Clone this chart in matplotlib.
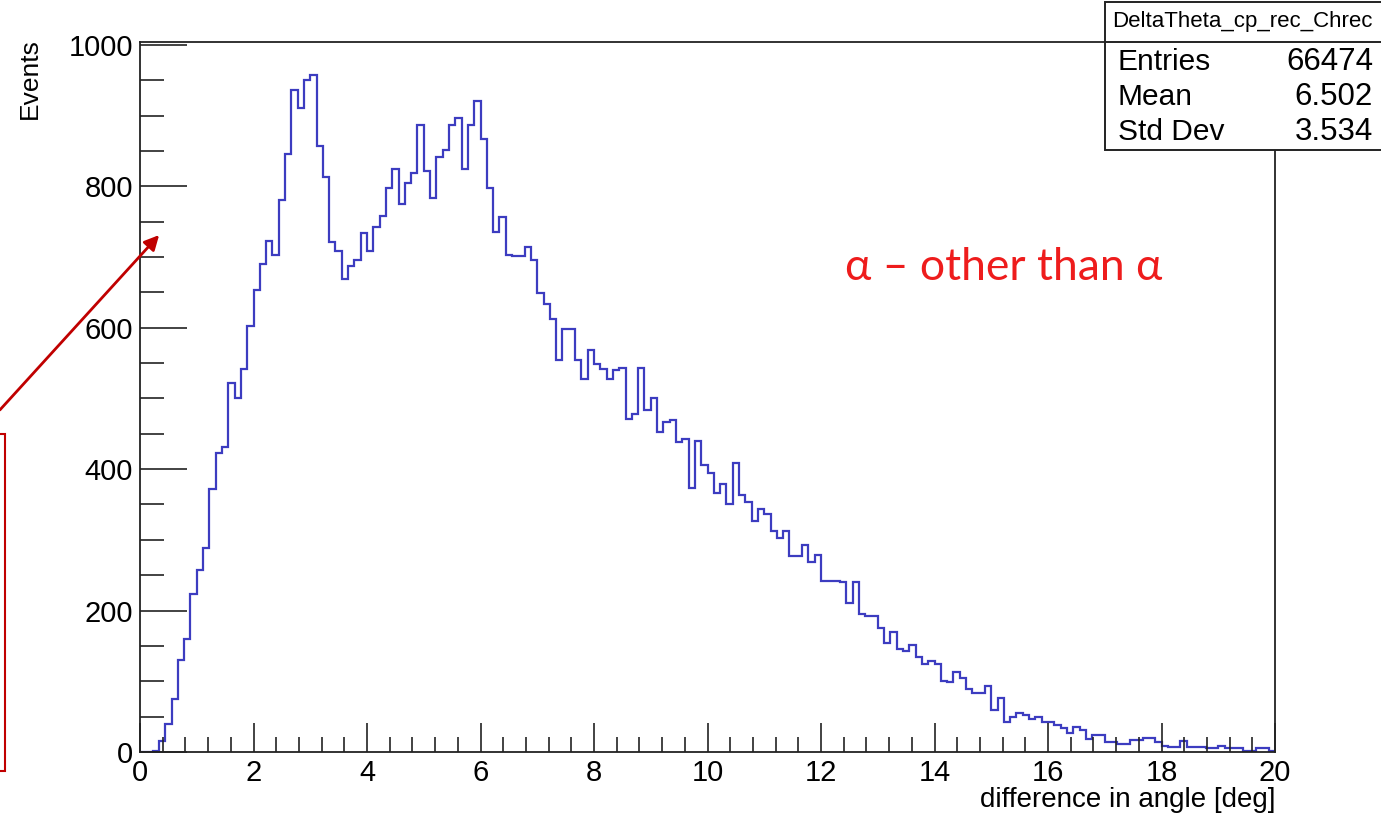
import numpy as np
import matplotlib
matplotlib.use("Agg")
import matplotlib.pyplot as plt
from matplotlib.patches import Rectangle, FancyArrowPatch

plt.rcParams['font.family'] = ['Liberation Sans', 'DejaVu Sans']

# histogram: 180 bins between 0 and 20 deg
x_min, x_max, n_bins = 0.0, 20.0, 180
counts = [
    0, 0, 2, 16, 40, 75, 130, 160, 223, 257,
    288, 372, 423, 431, 522, 500, 541, 602, 654, 690,
    722, 703, 780, 845, 936, 910, 950, 957, 857, 813,
    721, 709, 669, 687, 696, 734, 708, 742, 758, 797,
    825, 775, 805, 819, 887, 822, 783, 842, 851, 886,
    897, 825, 887, 920, 867, 797, 736, 756, 703, 701,
    701, 714, 696, 649, 633, 613, 555, 598, 598, 554,
    528, 568, 549, 542, 528, 540, 543, 471, 478, 543,
    483, 501, 452, 467, 469, 438, 442, 374, 440, 406,
    394, 366, 379, 351, 408, 364, 353, 326, 344, 336,
    313, 302, 312, 277, 277, 293, 269, 279, 242, 242,
    242, 240, 211, 240, 195, 192, 193, 176, 154, 169,
    146, 143, 151, 134, 125, 128, 124, 101, 99, 113,
    104, 89, 84, 84, 94, 60, 77, 43, 50, 55,
    53, 46, 49, 42, 42, 38, 34, 27, 36, 31,
    19, 24, 24, 14, 14, 12, 12, 17, 17, 20,
    20, 14, 9, 7, 7, 16, 7, 7, 7, 6,
    6, 8, 5, 5, 5, 2, 2, 6, 6, 1,
]

hist_name = "DeltaTheta_cp_rec_Chrec"
stat_names = ["Entries", "Mean", "Std Dev"]
stat_values = ["66474", "6.502", "3.534"]
y_ticks = [0, 200, 400, 600, 800, 1000]
x_ticks = [0, 2, 4, 6, 8, 10, 12, 14, 16, 18, 20]

W, H = 1381, 819
fig = plt.figure(figsize=(W / 100, H / 100), dpi=100)

# frame in pixels: left 140, right 1275, top 42, bottom 752
ax = fig.add_axes([140 / W, 1 - 752 / H, (1275 - 140) / W, (752 - 42) / H])

edges = np.linspace(x_min, x_max, n_bins + 1)
ax.stairs(counts, edges, color='#3c3cc0', linewidth=1.6, baseline=None)

ax.set_xlim(x_min, x_max)
ax.set_ylim(0, 1004)
ax.set_xticks(x_ticks)
ax.set_xticks(np.arange(0, 20.01, 0.4), minor=True)
ax.set_yticks(y_ticks)
ax.set_yticks(np.arange(0, 1001, 50), minor=True)
ax.tick_params(axis='both', which='both', direction='in', top=False, right=False,
               color='#222222', width=1.2)
ax.tick_params(axis='y', which='major', length=34, labelsize=21, pad=5)
ax.tick_params(axis='y', which='minor', length=17)
ax.tick_params(axis='x', which='major', length=21, labelsize=21, pad=5)
ax.tick_params(axis='x', which='minor', length=11)
for s in ax.spines.values():
    s.set_linewidth(1.3)
    s.set_color('#222222')

fig.text(30 / W, 1 - 38 / H, "Events", rotation=90, ha='center', va='top', fontsize=19)
fig.text(1275 / W, 1 - 800 / H, "difference in angle [deg]", ha='right', va='center',
         fontsize=20)

# stats box (runs off the right edge like the original)
box = Rectangle((1105 / W, 1 - 150 / H), (W + 20 - 1105) / W, 148 / H,
                transform=fig.transFigure, facecolor='white', edgecolor='#222222',
                linewidth=1.4, zorder=5, clip_on=False)
fig.patches.append(box)
fig.add_artist(plt.Line2D([1105 / W, 1], [1 - 42 / H, 1 - 42 / H],
                          transform=fig.transFigure, color='#222222', lw=1.4, zorder=6))
fig.text(1242 / W, 1 - 22 / H, hist_name, ha='center', va='center', fontsize=16, zorder=7)
for i, (name, val) in enumerate(zip(stat_names, stat_values)):
    yy = 1 - (62 + 35 * i) / H
    fig.text(1118 / W, yy, name, ha='left', va='center', fontsize=21.5, zorder=7)
    fig.text(1373 / W, yy, val, ha='right', va='center', fontsize=22.5, zorder=7)

# red annotation
fig.text(1004 / W, 1 - 268 / H, "α – other than α", ha='center', va='center',
         fontsize=32, color='#ee1c1c', family=['Lato', 'Open Sans', 'DejaVu Sans'])
arrow = FancyArrowPatch((-2 / W, 1 - 412 / H), (161 / W, 1 - 233 / H),
                        transform=fig.transFigure, arrowstyle='-|>', mutation_scale=22,
                        color='#c00000', linewidth=2)
fig.patches.append(arrow)
rect = Rectangle((-20 / W, 1 - 771 / H), 25 / W, (771 - 434) / H,
                 transform=fig.transFigure, facecolor='none', edgecolor='#c00000',
                 linewidth=1.5, clip_on=False)
fig.patches.append(rect)

fig.savefig("out.png", dpi=100)
